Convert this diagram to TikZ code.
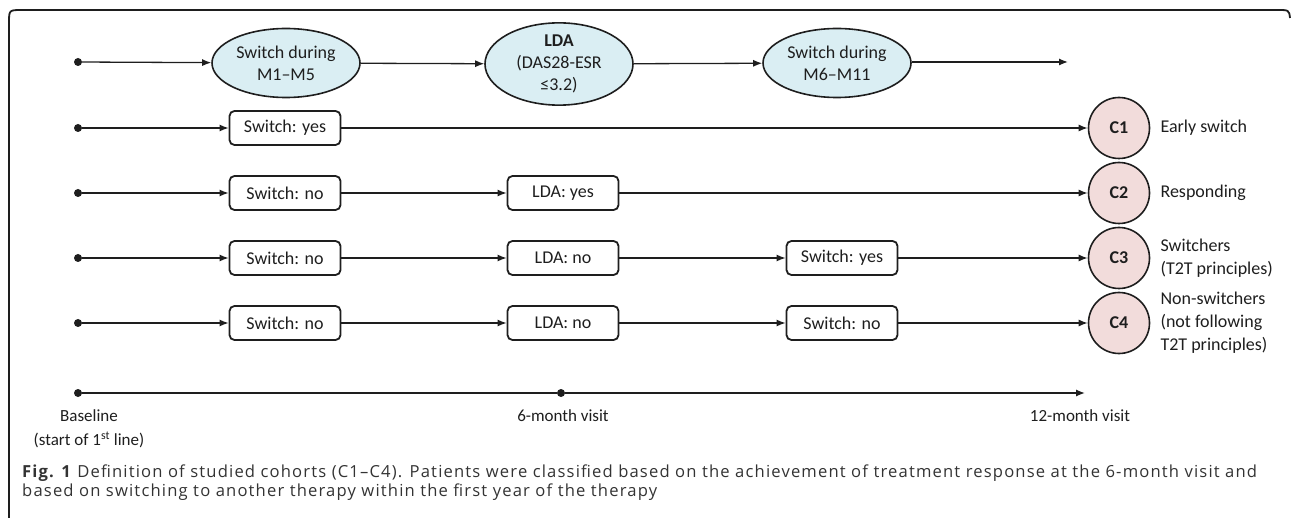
\documentclass[tikz,border=0pt]{standalone}
\usepackage{fontspec}
\setmainfont{Carlito}
\newfontfamily\capfont[Ligatures=TeX,LetterSpace=7]{Open Sans}
\usetikzlibrary{shapes.geometric,arrows.meta}
\definecolor{ellblue}{HTML}{DAEEF3}
\definecolor{cpink}{HTML}{F2DCDB}
\definecolor{ink}{HTML}{1E1E1E}
\definecolor{captxt}{HTML}{333333}
\begin{document}
\begin{tikzpicture}[x=1pt,y=-1pt,
  every node/.style={text=ink},
  ell/.style={ellipse, draw=ink, fill=ellblue, line width=1.6pt, minimum width=148pt, minimum height=69pt, inner sep=0pt, align=center, font=\fontsize{18}{22}\selectfont},
  bx/.style={rectangle, rounded corners=5pt, draw=ink, line width=1.8pt, minimum width=111pt, minimum height=34pt, inner sep=0pt, font=\fontsize{18}{22}\selectfont},
  coh/.style={circle, draw=ink, fill=cpink, minimum size=61pt, inner sep=0pt, line width=1.6pt, font=\fontsize{18}{22}\selectfont\bfseries},
  arr/.style={draw=ink, -{Latex[length=9pt,width=7pt]}, line width=1.3pt},
  ln/.style={draw=ink, line width=1.3pt},
  dotn/.style={circle, fill=ink, inner sep=0pt, minimum size=8pt},
  lab/.style={anchor=west, align=left, font=\fontsize{18}{23}\selectfont},
  tl/.style={align=center, font=\fontsize{17}{24}\selectfont},
  captn/.style={anchor=west, inner sep=0pt, text=captxt, font=\capfont\fontsize{16.6}{18}\selectfont}]
\useasboundingbox (0,0) rectangle (1292,518);
% frame
\draw[ink, line width=1.8pt] (9,518) -- (9,23) .. controls (9,10) .. (22,10) -- (1277,10) .. controls (1289,10) .. (1290,18);
% row 0
\node[dotn] (d0) at (78,62) {};
\node[ell] (e1) at (286,63) {Switch during\\M1–M5};
\node[ell, minimum height=72pt] (e2) at (559,64) {\textbf{LDA}\\(DAS28-ESR\\≤3.2)};
\node[ell] (e3) at (837,63) {Switch during\\M6–M11};
\coordinate (end0) at (1068,62);
\draw[arr] (d0) -- (e1);
\draw[arr] (e1) -- (e2);
\draw[arr] (e2) -- (e3);
\draw[arr] (e3.east |- end0) -- (end0);
% cohorts
\node[coh] (c1) at (1119,128) {C1};
\node[coh] (c2) at (1119,193) {C2};
\node[coh] (c3) at (1119,258) {C3};
\node[coh] (c4) at (1119,323) {C4};
\node[lab] (l1) at (1157,128) {Early switch};
\node[lab] (l2) at (1157,193) {Responding};
\node[lab] (l3) at (1157,258) {Switchers\\(T2T principles)};
\node[lab] (l4) at (1157,323) {Non-switchers\\(not following\\T2T principles)};
% row 1
\node[dotn] (d1) at (78,128) {};
\node[bx] (b11) at (285,128) {Switch: yes};
\draw[arr] (d1) -- (b11);
\draw[arr] (b11) -- (c1);
% row 2
\node[dotn] (d2) at (78,193) {};
\node[bx] (b21) at (285,193) {Switch: no};
\node[bx] (b22) at (563,193) {LDA: yes};
\draw[arr] (d2) -- (b21);
\draw[arr] (b21) -- (b22);
\draw[arr] (b22) -- (c2);
% row 3
\node[dotn] (d3) at (78,258) {};
\node[bx] (b31) at (285,258) {Switch: no};
\node[bx] (b32) at (563,258) {LDA: no};
\node[bx] (b33) at (842,258) {Switch: yes};
\draw[arr] (d3) -- (b31);
\draw[arr] (b31) -- (b32);
\draw[arr] (b32) -- (b33);
\draw[arr] (b33) -- (c3);
% row 4
\node[dotn] (d4) at (78,323) {};
\node[bx] (b41) at (285,323) {Switch: no};
\node[bx] (b42) at (563,323) {LDA: no};
\node[bx] (b43) at (842,323) {Switch: no};
\draw[arr] (d4) -- (b41);
\draw[arr] (b41) -- (b42);
\draw[arr] (b42) -- (b43);
\draw[arr] (b43) -- (c4);
% timeline
\node[dotn] (t0) at (78,393) {};
\node[dotn] (t6) at (561,393) {};
\coordinate (t12) at (1085,393);
\draw[ln] (t0) -- (t6);
\draw[arr] (t6) -- (t12);
\node[tl, anchor=north] (tb) at (89,406) {Baseline\\(start of 1\textsuperscript{st} line)};
\node[tl, anchor=north] (tm) at (563,406) {6-month visit};
\node[tl, anchor=north] (te) at (1080,406) {12-month visit};
% caption
\node[captn] (cap1) at (22,473) {\textbf{Fig. 1} Definition of studied cohorts (C1–C4). Patients were classified based on the achievement of treatment response at the 6-month visit and};
\node[captn] (cap2) at (22,492) {based on switching to another therapy within the first year of the therapy};
\end{tikzpicture}
\end{document}
